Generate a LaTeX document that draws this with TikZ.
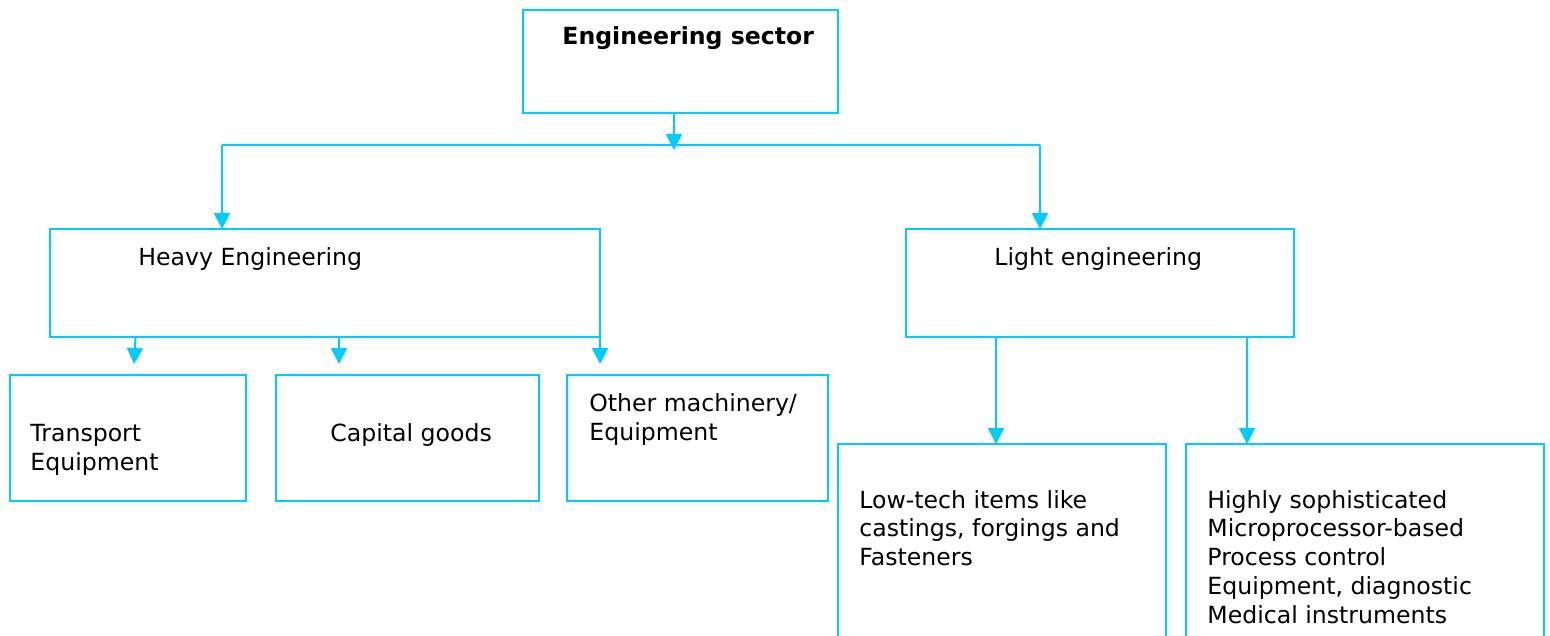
\documentclass[tikz,border=0pt]{standalone}
\usepackage{fontspec}
\setmainfont{DejaVu Sans}
\usetikzlibrary{arrows.meta}
\definecolor{linkblue}{RGB}{0,204,255}
\begin{document}
\begin{tikzpicture}[x=0.5pt, y=-0.5pt,
  box/.style={draw=linkblue, line width=1pt, rectangle, inner sep=0pt, outer sep=0pt, anchor=north west},
  arr/.style={draw=linkblue, line width=1pt, -{Triangle[length=8pt,width=8pt]}},
  bus/.style={draw=linkblue, line width=1pt},
  txt/.style={inner sep=0pt, anchor=base west, align=left,
    font=\fontsize{11.8pt}{14.4pt}\selectfont}]
\useasboundingbox (0,0) rectangle (1550,636);
\begin{scope}
\clip (0,0) rectangle (1550,636);

% boxes
\node[box, minimum width=157.5pt, minimum height=51.5pt] (sector) at (523,10) {};
\node[box, minimum width=275pt, minimum height=54pt] (heavy) at (50,229) {};
\node[box, minimum width=194pt, minimum height=54pt] (light) at (906,229) {};
\node[box, minimum width=118pt, minimum height=63pt] (transport) at (10,375) {};
\node[box, minimum width=131.5pt, minimum height=63pt] (capital) at (276,375) {};
\node[box, minimum width=130.5pt, minimum height=63pt] (other) at (567,375) {};
\node[box, minimum width=164pt, minimum height=130pt] (lowtech) at (838,444) {};
\node[box, minimum width=179pt, minimum height=130pt] (hightech) at (1186,444) {};

% labels (multi-line labels are placed by the baseline of their last line)
\node[txt, font=\fontsize{11.8pt}{14.4pt}\selectfont\bfseries] (tsector) at (562,45) {Engineering sector};
\node[txt] (theavy) at (138,265) {Heavy Engineering};
\node[txt] (tlight) at (994,265) {Light engineering};
\node[txt] (ttransport) at (30,470) {Transport\\Equipment};
\node[txt] (tcapital) at (330,441) {Capital goods};
\node[txt] (tother) at (589,440) {Other machinery/\\Equipment};
\node[txt] (tlowtech) at (859,565.6) {Low-tech items like\\castings, forgings and\\Fasteners};
\node[txt] (thightech) at (1207,623.2) {Highly sophisticated\\Microprocessor-based\\Process control\\Equipment, diagnostic\\Medical instruments};

% top-level split
\coordinate (hub) at (674,150);
\coordinate (busL) at (222,145);
\coordinate (busR) at (1040,145);
\draw[arr] (sector.south -| hub) -- (hub);
\draw[bus] (busL) -- (busR);
\draw[arr] (busL) -- (busL |- heavy.north);
\draw[arr] (busR) -- (busR |- light.north);

% heavy engineering branches
\coordinate (h1) at ([xshift=42.75pt]heavy.south west);
\coordinate (h1e) at ([xshift=42pt,yshift=-13.5pt]heavy.south west);
\coordinate (h2) at ([xshift=144.5pt]heavy.south west);
\coordinate (h2e) at ([xshift=144.5pt,yshift=-13.5pt]heavy.south west);
\coordinate (h3e) at ([yshift=-13.5pt]heavy.south east);
\draw[arr] (h1) -- (h1e);
\draw[arr] (h2) -- (h2e);
\draw[arr] (heavy.south east) -- (h3e);

% light engineering branches
\coordinate (l1) at ([xshift=45pt]light.south west);
\coordinate (l2) at ([xshift=170.5pt]light.south west);
\draw[arr] (l1) -- (l1 |- lowtech.north);
\draw[arr] (l2) -- (l2 |- hightech.north);
\end{scope}
\end{tikzpicture}
\end{document}
